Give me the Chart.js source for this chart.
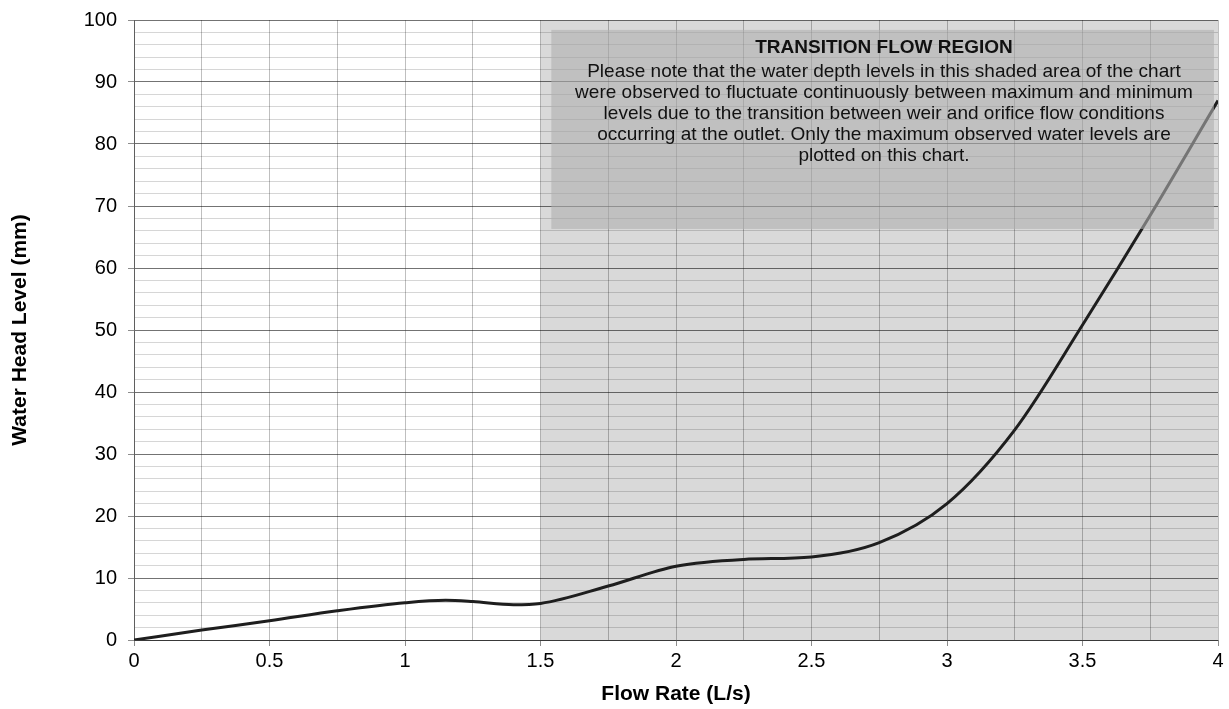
<!DOCTYPE html>
<html>
<head>
<meta charset="utf-8">
<script src="https://cdn.jsdelivr.net/npm/chart.js@4/dist/chart.umd.min.js"></script>
<style>
  html, body { margin: 0; padding: 0; background: #fff; }
  #wrap { width: 1229px; height: 709px; position: relative; }
</style>
</head>
<body>
<div id="wrap"><canvas id="myChart"></canvas></div>
<script>
// data
var flowRate  = [0, 0.25, 0.5, 0.75, 1, 1.15, 1.25, 1.4, 1.5, 1.75, 2, 2.25, 2.5, 2.75, 3, 3.25, 3.5, 3.75, 4];
var headLevel = [0, 1.6, 3.1, 4.7, 6.0, 6.4, 6.2, 5.7, 5.9, 8.7, 11.9, 13.0, 13.4, 15.7, 22.0, 33.9, 50.8, 68.5, 87];

var noteTitle = 'TRANSITION FLOW REGION';
var noteLines = [
  'Please note that the water depth levels in this shaded area of the chart',
  'were observed to fluctuate continuously between maximum and minimum',
  'levels due to the transition between weir and orifice flow conditions',
  'occurring at the outlet. Only the maximum observed water levels are',
  'plotted on this chart.'
];

var points = flowRate.map(function (x, i) { return { x: x, y: headLevel[i] }; });

var FONT = '"Liberation Sans", Arial, sans-serif';

// grey band behind the grid (x >= 1.5)
var bandPlugin = {
  id: 'band',
  beforeDraw: function (chart) {
    var ctx = chart.ctx, a = chart.chartArea, xs = chart.scales.x;
    ctx.save();
    ctx.fillStyle = '#fff';
    ctx.fillRect(0, 0, chart.width, chart.height);
    var x0 = xs.getPixelForValue(1.5);
    ctx.fillStyle = '#d9d9d9';
    ctx.fillRect(x0, a.top, a.right - x0, a.bottom - a.top);
    ctx.restore();
  }
};

// note box drawn over the line
var notePlugin = {
  id: 'note',
  afterDatasetsDraw: function (chart) {
    var ctx = chart.ctx, xs = chart.scales.x, ys = chart.scales.y;
    var l = xs.getPixelForValue(1.54), r = xs.getPixelForValue(3.985);
    var t = ys.getPixelForValue(98.4), b = ys.getPixelForValue(66.3);
    ctx.save();
    ctx.fillStyle = 'rgba(175,175,175,0.6)';
    ctx.fillRect(l, t, r - l, b - t);
    var cx = 884;
    ctx.fillStyle = '#111';
    ctx.textAlign = 'center';
    ctx.textBaseline = 'middle';
    ctx.font = 'bold 19px ' + FONT;
    ctx.fillText(noteTitle, cx, t + 18);
    ctx.font = '19px ' + FONT;
    noteLines.forEach(function (s, i) {
      ctx.fillText(s, cx, t + 42 + i * 21);
    });
    ctx.restore();
  }
};

var ctx = document.getElementById('myChart').getContext('2d');
var chart = new Chart(ctx, {
  type: 'line',
  data: {
    datasets: [{
      label: 'Water Head Level',
      data: points,
      borderColor: '#1e1e1e',
      borderWidth: 3,
      pointRadius: 0,
      fill: false,
      cubicInterpolationMode: 'monotone'
    }]
  },
  options: {
    responsive: true,
    maintainAspectRatio: false,
    animation: false,
    layout: { padding: { top: 20, right: 11, left: 0, bottom: 0 } },
    plugins: {
      legend: { display: false },
      tooltip: { enabled: false }
    },
    scales: {
      x: {
        type: 'linear',
        min: 0, max: 4,
        afterFit: function (s) { s.height = 69; s.paddingLeft = 0; s.paddingRight = 0; },
        ticks: {
          stepSize: 0.25,
          autoSkip: false,
          maxRotation: 0,
          color: '#000',
          font: { family: FONT, size: 20 },
          padding: 3,
          callback: function (v) { return (Math.round(v * 100) % 50 === 0) ? String(v) : ''; }
        },
        grid: {
          color: 'rgba(0,0,0,0.25)',
          tickLength: 6,
          tickColor: function (c) { return (Math.round(c.tick.value * 100) % 50 === 0) ? 'rgba(0,0,0,0.45)' : 'rgba(0,0,0,0)'; }
        },
        border: { color: 'rgba(0,0,0,0.5)' },
        title: {
          display: true,
          text: 'Flow Rate (L/s)',
          color: '#000',
          font: { family: FONT, size: 21, weight: 'bold' },
          padding: { top: 0, bottom: 2 }
        }
      },
      y: {
        min: 0, max: 100,
        afterFit: function (s) { s.width = 134; s.paddingTop = 0; s.paddingBottom = 0; },
        ticks: {
          stepSize: 2,
          autoSkip: false,
          color: '#000',
          font: { family: FONT, size: 20 },
          padding: 11,
          callback: function (v) { return v % 10 === 0 ? String(v) : ''; }
        },
        grid: {
          color: function (c) { return c.tick.value % 10 === 0 ? 'rgba(0,0,0,0.55)' : 'rgba(0,0,0,0.16)'; },
          tickLength: 6,
          tickColor: function (c) { return c.tick.value % 10 === 0 ? 'rgba(0,0,0,0.45)' : 'rgba(0,0,0,0)'; }
        },
        border: { color: 'rgba(0,0,0,0.5)' },
        title: {
          display: true,
          text: 'Water Head Level (mm)',
          color: '#000',
          font: { family: FONT, size: 21, weight: 'bold' },
          padding: { top: 8, bottom: 0 }
        }
      }
    }
  },
  plugins: [bandPlugin, notePlugin]
});
</script>
</body>
</html>
